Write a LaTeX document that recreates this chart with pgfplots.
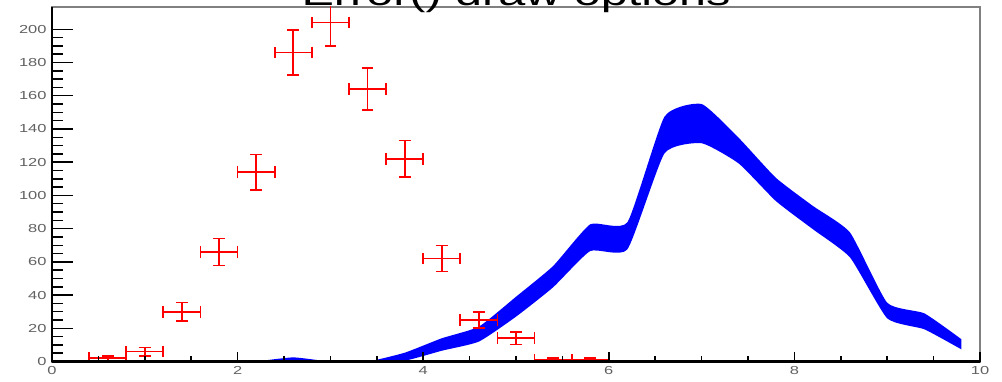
\documentclass[border=0pt]{standalone}
\usepackage{fontspec}
\usepackage{pgfplots}
\pgfplotsset{compat=1.18}
\usepgfplotslibrary{fillbetween}
\setmainfont{Liberation Sans}
\newfontfamily\titlefont[FakeStretch=1.4]{Liberation Sans}
\newfontfamily\tickfont[FakeStretch=1.42]{Liberation Sans}

% Red histogram: bin centre, content, half bin width, Poisson error
\pgfplotstableread{
x    y    ex   ey
0.6  2    0.2  1.41
1.0  6    0.2  2.45
1.4  30   0.2  5.48
1.8  66   0.2  8.12
2.2  114  0.2  10.68
2.6  186  0.2  13.64
3.0  204  0.2  14.28
3.4  164  0.2  12.81
3.8  122  0.2  11.05
4.2  62   0.2  7.87
4.6  25   0.2  5.00
5.0  14   0.2  3.74
5.4  1    0.2  1.00
5.8  1    0.2  1.00
}\redhist

% Blue band: bin centre, lower and upper edge of the error band
\pgfplotstableread{
x    lo     up
2.2  0      0
2.6  0      2.5
3.0  0      0
3.4  0      0
3.8  0.5    5.3
4.2  6.5    14
4.6  12     21
5.0  27     39
5.4  44.7   57.5
5.8  66.5   82.6
6.2  67.5   83.8
6.6  125.3  147.4
7.0  131.4  155
7.4  119.2  134.6
7.8  96.6   110.6
8.2  79.6   93.6
8.6  62.6   77.6
9.0  26     35.4
9.4  19.4   29
9.8  7.3    13.4
}\blueband

\pgfplotsset{
  frame/.style={
    scale only axis,
    width=696pt, height=265.9pt,
    xmin=0, xmax=10, ymin=0, ymax=213.4,
    /pgf/number format/assume math mode=true,
    ticklabel style={font=\tickfont\fontsize{8.7}{9}\selectfont, text=black!62},
  },
  blackaxis/.style={
    axis line style={draw=black, line width=1.8pt, -},
    every outer x axis line/.append style={-},
    every outer y axis line/.append style={-},
    tick align=inside,
    tick style={draw=black, line width=1.1pt},
  },
}

\begin{document}
\begin{tikzpicture}
% data and the grey frame
\begin{axis}[
  frame,
  axis line style={draw=black!50, line width=1.5pt},
  xtick=\empty, ytick=\empty,
  title={Error() draw options},
  title style={at={(0.5,1)}, anchor=base, yshift=-4.9pt, inner sep=0pt,
    font=\titlefont\fontsize{26}{30}\selectfont},
]
\coordinate (sw) at (rel axis cs:0,0);
\coordinate (ne) at (rel axis cs:1,1);

\addplot[name path=up, draw=none, smooth, tension=0.3] table[x=x, y=up] {\blueband};
\addplot[name path=lo, draw=none, smooth, tension=0.3] table[x=x, y=lo] {\blueband};
\addplot[blue, draw=none] fill between[of=up and lo];

\addplot[draw=none, mark=none,
  error bars/.cd,
    x dir=both, x explicit, y dir=both, y explicit,
    error mark=-,
    error bar style={draw=red, line width=1.3pt},
    error mark options={rotate=90, draw=red, line width=1.3pt, mark size=4.4pt}]
  table[x=x, y=y, x error=ex, y error=ey] {\redhist};
\end{axis}
% left axis with long ticks
\begin{axis}[
  frame,
  axis y line=left, axis x line=none,
  blackaxis,
  ytick={0,20,...,200}, minor y tick num=3,
  major tick length=15.75pt, minor tick length=8.25pt,
  yticklabel style={xshift=-0.6pt},
]
\end{axis}
% bottom axis with short ticks
\begin{axis}[
  frame,
  axis x line=bottom, axis y line=none,
  blackaxis,
  xtick={0,2,...,10}, minor x tick num=3,
  major tick length=7.5pt, minor tick length=4.5pt,
  xticklabel style={yshift=0pt},
]
\end{axis}
\pgfresetboundingbox
\path[use as bounding box] ([xshift=-39pt, yshift=-14.63pt]sw) rectangle ([xshift=16.5pt, yshift=5.25pt]ne);
\end{tikzpicture}
\end{document}
